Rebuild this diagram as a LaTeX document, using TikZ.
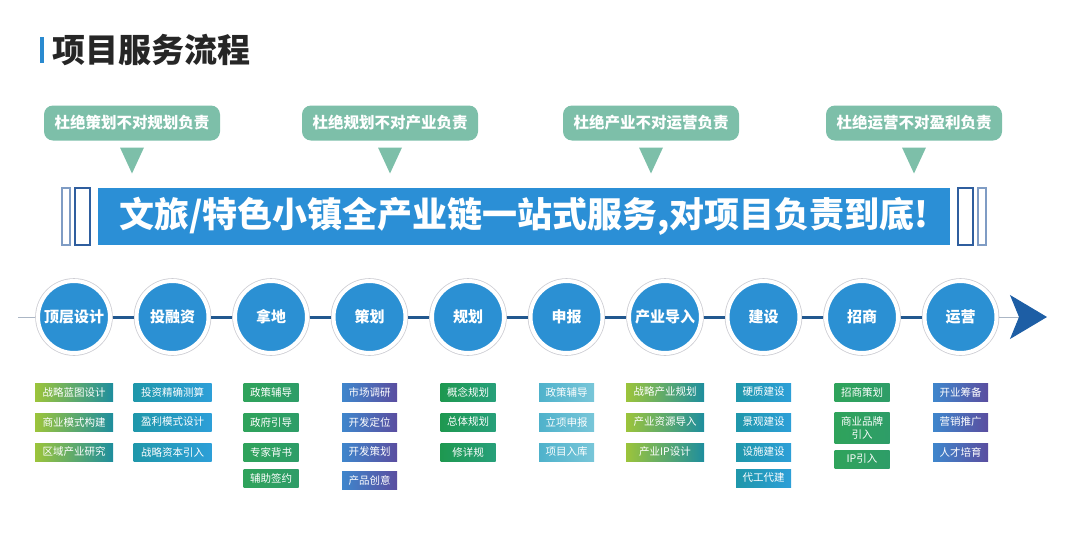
\documentclass[tikz,border=0pt]{standalone}
\usepackage{fontspec}
\setmainfont{Noto Sans CJK SC}
\usepackage{tikz}
\usetikzlibrary{positioning, shapes.geometric, arrows.meta}
\usepackage{xcolor}

\definecolor{markblue}{HTML}{2A8AD0}
\definecolor{titlegrey}{HTML}{262626}
\definecolor{taggreen}{HTML}{7DBFA9}
\definecolor{bannerblue}{HTML}{2B8FD6}
\definecolor{framedark}{HTML}{2F5E9E}
\definecolor{framelight}{HTML}{7F9CC4}
\definecolor{circblue}{HTML}{2B90D3}
\definecolor{ringgrey}{HTML}{CDCDD3}
\definecolor{linkblue}{HTML}{22588F}
\definecolor{arrowblue}{HTML}{1D5EA5}
\definecolor{limeA}{HTML}{9CC43B}
\definecolor{tealA}{HTML}{1E8E9E}
\definecolor{tealB}{HTML}{1F97AA}
\definecolor{blueB}{HTML}{2D9FD8}
\definecolor{greenC}{HTML}{2FA35B}
\definecolor{greenCC}{HTML}{2E9D68}
\definecolor{blueD}{HTML}{3F86CC}
\definecolor{purpleD}{HTML}{5A4EA0}
\definecolor{greenE}{HTML}{1E9850}
\definecolor{tealE}{HTML}{27A07A}
\definecolor{cyanF}{HTML}{4FB2CB}
\definecolor{cyanFF}{HTML}{78C6D9}

\begin{document}
\begin{tikzpicture}[
				x=1pt, y=-1pt,
				node distance = 12pt,
				every node/.style = {inner sep=0pt, outer sep=0pt},
				tag/.style = {rounded corners=9pt, fill=taggreen, text=white, minimum width=176pt, minimum height=35pt, font=\fontsize{15.5}{16}\selectfont\bfseries},
				vtri/.style = {isosceles triangle, isosceles triangle stretches, shape border rotate=-90, fill=taggreen, minimum width=24pt, minimum height=26pt},
				frameA/.style = {draw=framelight, line width=1.6pt, minimum width=8pt, minimum height=57pt},
				frameB/.style = {draw=framedark, line width=1.6pt, minimum width=15pt, minimum height=57pt},
				stage/.style = {circle, minimum size=72pt, outer sep=2.8pt, fill=circblue, draw=white, line width=4pt, preaction={draw=ringgrey, line width=5.6pt}, text=white, font=\fontsize{15}{15}\selectfont\bfseries},
				link/.style = {draw=linkblue, line width=3pt},
				thinlink/.style = {draw=ringgrey!80!linkblue, line width=1pt},
				sub/.style = {minimum width=55pt, minimum height=18pt, text=white, align=center, font=\fontsize{10.5}{13}\selectfont},
				longbox/.style = {sub, minimum width=78pt},
				col1/.style = {sub, left color=limeA, right color=tealA},
				col2/.style = {sub, left color=tealB, right color=blueB},
				col3/.style = {sub, left color=greenC, right color=greenCC},
				col4/.style = {sub, left color=blueD, right color=purpleD},
				col5/.style = {sub, left color=greenE, right color=tealE},
				col6/.style = {sub, left color=cyanF, right color=cyanFF}
			]
				\useasboundingbox (0,0) rectangle (1080,560);
				% title
				\node (mark) [fill=markblue, minimum width=3.5pt, minimum height=26pt] at (42,50) {};
				\node (ttl) [right=9pt of mark, text=titlegrey, font=\fontsize{33}{33}\selectfont\bfseries] {项目服务流程};
				%
				\node (g1) [tag] at (132,123) {杜绝策划不对规划负责};
				\node (g2) [tag] at (390,123) {杜绝规划不对产业负责};
				\node (g3) [tag] at (651,123) {杜绝产业不对运营负责};
				\node (g4) [tag] at (914,123) {杜绝运营不对盈利负责};
				%
				\node (v1) [vtri, below=7pt of g1] {};
				\node (v2) [vtri, below=7pt of g2] {};
				\node (v3) [vtri, below=7pt of g3] {};
				\node (v4) [vtri, below=7pt of g4] {};
				% banner
				\node (bn) [fill=bannerblue, minimum width=852pt, minimum height=57pt, text=white, font=\fontsize{35}{35}\selectfont\bfseries] at (524,216.5) {文旅/特色小镇全产业链一站式服务,对项目负责到底!};
				\node (bl2) [frameB, left=8pt of bn]  {};
				\node (bl1) [frameA, left=5pt of bl2] {};
				\node (br1) [frameB, right=8pt of bn] {};
				\node (br2) [frameA, right=5pt of br1] {};
				% stages
				\node (c1)  [stage] at (74,317)    {顶层设计};
				\node (c2)  [stage] at (172.5,317) {投融资};
				\node (c3)  [stage] at (271,317)   {拿地};
				\node (c4)  [stage] at (369.5,317) {策划};
				\node (c5)  [stage] at (468,317)   {规划};
				\node (c6)  [stage] at (566.5,317) {申报};
				\node (c7)  [stage] at (665,317)   {产业导入};
				\node (c8)  [stage] at (763.5,317) {建设};
				\node (c9)  [stage] at (862,317)   {招商};
				\node (c10) [stage] at (960.5,317) {运营};
				%
				\coordinate (start) at (18,317);
				\coordinate (tip) at (1047,317);
				\draw[thinlink] (start) -- (c1);
				\draw[link] (c1) -- (c2);
				\draw[link] (c2) -- (c3);
				\draw[link] (c3) -- (c4);
				\draw[link] (c4) -- (c5);
				\draw[link] (c5) -- (c6);
				\draw[link] (c6) -- (c7);
				\draw[link] (c7) -- (c8);
				\draw[link] (c8) -- (c9);
				\draw[link] (c9) -- (c10);
				\draw[thinlink, -{Stealth[length=37pt, width=44pt, inset=9pt, color=arrowblue]}] (c10) -- (tip);
				%
				\node (b11) [col1, longbox, below=27.2pt of c1] {战略蓝图设计};
				\node (b12) [col1, longbox, below=of b11]       {商业模式构建};
				\node (b13) [col1, longbox, below=of b12]       {区域产业研究};
				%
				\node (b21) [col2, longbox, below=27.2pt of c2] {投资精确测算};
				\node (b22) [col2, longbox, below=of b21]       {盈利模式设计};
				\node (b23) [col2, longbox, below=of b22]       {战略资本引入};
				%
				\node (b31) [col3, below=27.2pt of c3] {政策辅导};
				\node (b32) [col3, below=of b31]       {政府引导};
				\node (b33) [col3, below=of b32]       {专家背书};
				\node (b34) [col3, below=8pt of b33]   {辅助签约};
				%
				\node (b41) [col4, below=27.2pt of c4] {市场调研};
				\node (b42) [col4, below=of b41]       {开发定位};
				\node (b43) [col4, below=of b42]       {开发策划};
				\node (b44) [col4, below=10pt of b43]  {产品创意};
				%
				\node (b51) [col5, below=27.2pt of c5] {概念规划};
				\node (b52) [col5, below=of b51]       {总体规划};
				\node (b53) [col5, below=of b52]       {修详规};
				%
				\node (b61) [col6, below=27.2pt of c6] {政策辅导};
				\node (b62) [col6, below=of b61]       {立项申报};
				\node (b63) [col6, below=of b62]       {项目入库};
				%
				\node (b71) [col1, longbox, below=27.2pt of c7] {战略产业规划};
				\node (b72) [col1, longbox, below=of b71]       {产业资源导入};
				\node (b73) [col1, longbox, below=of b72]       {产业IP设计};
				%
				\node (b81) [col2, below=27.2pt of c8] {硬质建设};
				\node (b82) [col2, below=of b81]       {景观建设};
				\node (b83) [col2, below=of b82]       {设施建设};
				\node (b84) [col2, below=8pt of b83]   {代工代建};
				%
				\node (b91) [col3, below=27.2pt of c9] {招商策划};
				\node (b92) [col3, below=11pt of b91, minimum height=31pt] {商业品牌\\引入};
				\node (b93) [col3, below=7pt of b92]   {IP引入};
				%
				\node (b101) [col4, below=27.2pt of c10] {开业筹备};
				\node (b102) [col4, below=of b101]       {营销推广};
				\node (b103) [col4, below=of b102]       {人才培育};

			\end{tikzpicture}
\end{document}
